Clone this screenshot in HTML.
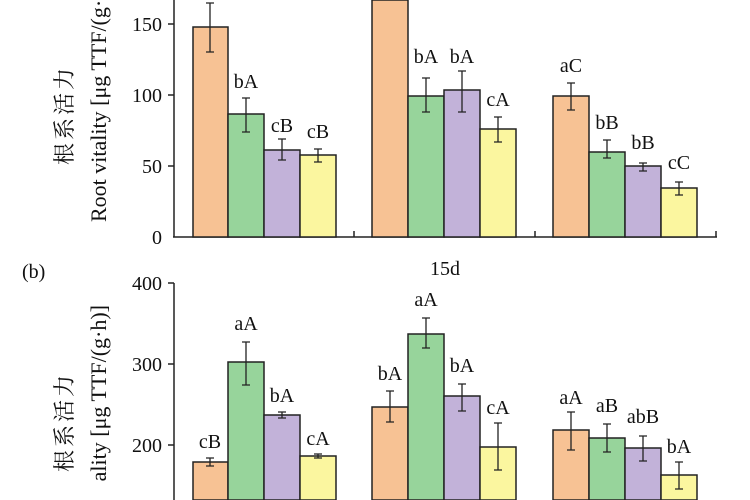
<!DOCTYPE html>
<html><head><meta charset="utf-8"><style>html,body{margin:0;background:#fff;width:750px;height:500px;overflow:hidden}svg{display:block}text{font-family:"Liberation Serif","Noto Serif CJK SC",serif;fill:#111}</style></head><body>
<svg width="750" height="500" viewBox="0 0 750 500" overflow="hidden">
<g stroke="#222" stroke-width="1.5">
<line x1="174" y1="0" x2="174" y2="237"/><line x1="173" y1="237" x2="717" y2="237"/>
<line x1="168" y1="24" x2="174" y2="24"/><line x1="168" y1="95" x2="174" y2="95"/><line x1="168" y1="166" x2="174" y2="166"/>
<line x1="354" y1="231" x2="354" y2="237"/><line x1="535" y1="231" x2="535" y2="237"/><line x1="716" y1="231" x2="716" y2="237"/>
<line x1="174" y1="283" x2="174" y2="500"/>
<line x1="168" y1="283" x2="174" y2="283"/><line x1="168" y1="364" x2="174" y2="364"/><line x1="168" y1="445" x2="174" y2="445"/>
</g>
<g stroke="#222" stroke-width="1.5">
<rect x="193" y="27" width="35" height="210" fill="#f7c294"/>
<rect x="228" y="114" width="36" height="123" fill="#97d49b"/>
<rect x="264" y="150" width="36" height="87" fill="#c2b2d9"/>
<rect x="300" y="155" width="36" height="82" fill="#fbf69f"/>
<rect x="372" y="0" width="36" height="237" fill="#f7c294"/>
<rect x="408" y="96" width="36" height="141" fill="#97d49b"/>
<rect x="444" y="90" width="36" height="147" fill="#c2b2d9"/>
<rect x="480" y="129" width="36" height="108" fill="#fbf69f"/>
<rect x="553" y="96" width="36" height="141" fill="#f7c294"/>
<rect x="589" y="152" width="36" height="85" fill="#97d49b"/>
<rect x="625" y="166" width="36" height="71" fill="#c2b2d9"/>
<rect x="661" y="188" width="36" height="49" fill="#fbf69f"/>
<rect x="193" y="462" width="35" height="38" fill="#f7c294"/>
<rect x="228" y="362" width="36" height="138" fill="#97d49b"/>
<rect x="264" y="415" width="36" height="85" fill="#c2b2d9"/>
<rect x="300" y="456" width="36" height="44" fill="#fbf69f"/>
<rect x="372" y="407" width="36" height="93" fill="#f7c294"/>
<rect x="408" y="334" width="36" height="166" fill="#97d49b"/>
<rect x="444" y="396" width="36" height="104" fill="#c2b2d9"/>
<rect x="480" y="447" width="36" height="53" fill="#fbf69f"/>
<rect x="553" y="430" width="36" height="70" fill="#f7c294"/>
<rect x="589" y="438" width="36" height="62" fill="#97d49b"/>
<rect x="625" y="448" width="36" height="52" fill="#c2b2d9"/>
<rect x="661" y="475" width="36" height="25" fill="#fbf69f"/>
</g>
<g stroke="#222" stroke-width="1.3" fill="none">
<path d="M210 3V52M206 3h8M206 52h8"/>
<path d="M246 98V132M242 98h8M242 132h8"/>
<path d="M282 139V160M278 139h8M278 160h8"/>
<path d="M318 149V162M314 149h8M314 162h8"/>
<path d="M426 78V112M422 78h8M422 112h8"/>
<path d="M462 71V112M458 71h8M458 112h8"/>
<path d="M498 117V142M494 117h8M494 142h8"/>
<path d="M571 83V110M567 83h8M567 110h8"/>
<path d="M607 140V158M603 140h8M603 158h8"/>
<path d="M643 163V171M639 163h8M639 171h8"/>
<path d="M679 182V195M675 182h8M675 195h8"/>
<path d="M210 458V466M206 458h8M206 466h8"/>
<path d="M246 342V385M242 342h8M242 385h8"/>
<path d="M282 412V418M278 412h8M278 418h8"/>
<path d="M318 454V458M314 454h8M314 458h8"/>
<path d="M390 391V422M386 391h8M386 422h8"/>
<path d="M426 318V348M422 318h8M422 348h8"/>
<path d="M462 384V411M458 384h8M458 411h8"/>
<path d="M498 423V470M494 423h8M494 470h8"/>
<path d="M571 412V450M567 412h8M567 450h8"/>
<path d="M607 424V452M603 424h8M603 452h8"/>
<path d="M643 436V461M639 436h8M639 461h8"/>
<path d="M679 462V489M675 462h8M675 489h8"/>
</g>
<g font-size="20" text-anchor="end">
<text x="162" y="31">150</text><text x="162" y="102">100</text><text x="162" y="173">50</text><text x="162" y="244">0</text>
<text x="162" y="290">400</text><text x="162" y="371">300</text><text x="162" y="452">200</text>
</g>
<g font-size="20" text-anchor="middle">
<text x="246" y="88">bA</text><text x="282" y="132">cB</text><text x="318" y="138">cB</text>
<text x="426" y="63">bA</text><text x="462" y="63">bA</text><text x="498" y="106">cA</text>
<text x="571" y="72">aC</text><text x="607" y="129">bB</text><text x="643" y="149">bB</text><text x="679" y="169">cC</text>
<text x="210" y="448">cB</text><text x="246" y="330">aA</text><text x="282" y="402">bA</text><text x="318" y="445">cA</text>
<text x="390" y="380">bA</text><text x="426" y="306">aA</text><text x="462" y="372">bA</text><text x="498" y="414">cA</text>
<text x="571" y="404">aA</text><text x="607" y="412">aB</text><text x="643" y="423">abB</text><text x="679" y="453">bA</text>
<text x="445" y="275">15d</text>
</g>
<text x="22" y="278" font-size="20">(b)</text>
<g font-size="22">
<text transform="translate(72,115) rotate(-90)" text-anchor="middle" letter-spacing="3">根系活力</text>
<text transform="translate(106,222) rotate(-90)" text-anchor="start">Root vitality [μg TTF/(g·h)]</text>
<text transform="translate(72,422) rotate(-90)" text-anchor="middle" letter-spacing="3">根系活力</text>
<text transform="translate(106,305) rotate(-90)" text-anchor="end">ality [μg TTF/(g·h)]</text>
</g>
</svg>
</body></html>
